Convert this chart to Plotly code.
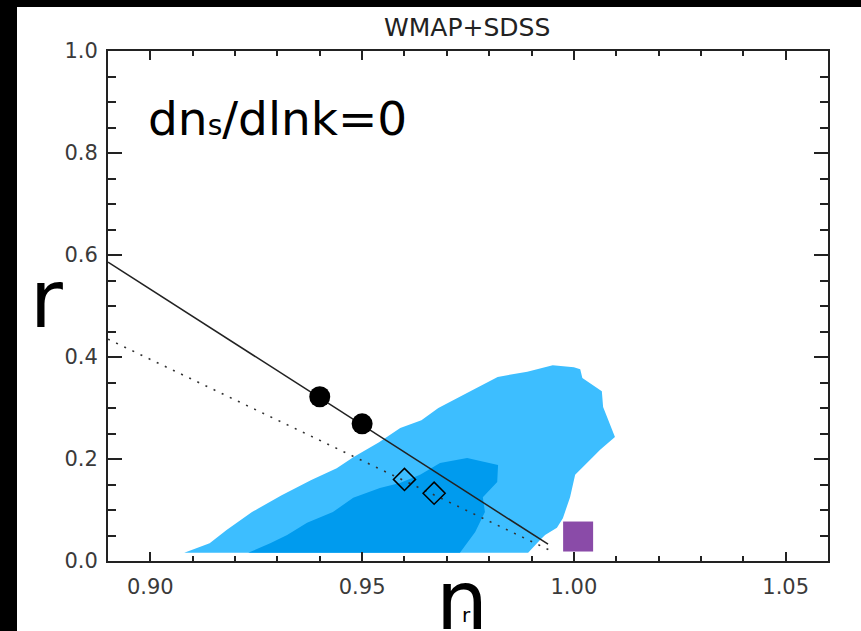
import plotly.graph_objects as go

# ---- data ----
outer_n = [0.908, 0.914, 0.918, 0.924, 0.931, 0.938, 0.944, 0.948, 0.954, 0.959, 0.964, 0.968,
           0.976, 0.982, 0.989, 0.995, 1.000, 1.0015, 1.002, 1.0066, 1.0069, 1.0097, 1.0062,
           1.0045, 1.0003, 0.9991, 0.9974, 0.996, 0.9932, 0.992, 0.9892]
outer_r = [0.016, 0.035, 0.061, 0.096, 0.129, 0.159, 0.182, 0.204, 0.233, 0.261, 0.276, 0.300,
           0.335, 0.361, 0.371, 0.384, 0.380, 0.376, 0.359, 0.333, 0.302, 0.243, 0.218,
           0.204, 0.169, 0.125, 0.084, 0.065, 0.051, 0.041, 0.016]
inner_n = [0.9231, 0.9283, 0.9323, 0.937, 0.9431, 0.9479, 0.9542, 0.9589, 0.9637, 0.9684,
           0.9748, 0.9821, 0.9819, 0.9785, 0.979, 0.9767, 0.9731]
inner_r = [0.016, 0.035, 0.051, 0.075, 0.096, 0.124, 0.143, 0.153, 0.169, 0.192,
           0.202, 0.188, 0.155, 0.125, 0.096, 0.057, 0.016]
solid_n = [0.89, 0.9939]
solid_r = [0.586, 0.033]
dotted_n = [0.89, 0.9951]
dotted_r = [0.435, 0.018]
circle_n = [0.940, 0.950]
circle_r = [0.322, 0.269]
diamond_n = [0.960, 0.967]
diamond_r = [0.160, 0.133]
square_n = [1.001]
square_r = [0.048]
x_ticks = [0.90, 0.95, 1.00, 1.05]
x_ticklabels = ["0.90", "0.95", "1.00", "1.05"]
y_ticks = [0.0, 0.2, 0.4, 0.6, 0.8, 1.0]
y_ticklabels = ["0.0", "0.2", "0.4", "0.6", "0.8", "1.0"]

W, H = 861, 631
L, R, T, B = 108, 33, 51, 70
PW, PH = W - L - R, H - T - B


def px(x):
    return (x - L) / PW


def py(y):
    return (H - B - y) / PH


fig = go.Figure()
fig.add_trace(go.Scatter(x=outer_n, y=outer_r, fill="toself", mode="none",
                         fillcolor="#3DBEFF", hoverinfo="skip"))
fig.add_trace(go.Scatter(x=inner_n, y=inner_r, fill="toself", mode="none",
                         fillcolor="#009BEE", hoverinfo="skip"))
fig.add_trace(go.Scatter(x=solid_n, y=solid_r, mode="lines",
                         line=dict(color="#222222", width=1.5)))
fig.add_trace(go.Scatter(x=dotted_n, y=dotted_r, mode="lines",
                         line=dict(color="#333333", width=1.6, dash="2px,7px")))
fig.add_trace(go.Scatter(x=circle_n, y=circle_r, mode="markers",
                         marker=dict(symbol="circle", size=21, color="black")))
fig.add_trace(go.Scatter(x=diamond_n, y=diamond_r, mode="markers",
                         marker=dict(symbol="diamond-open", size=17, color="black",
                                     line=dict(width=1.5, color="black"))))
fig.add_trace(go.Scatter(x=square_n, y=square_r, mode="markers",
                         marker=dict(symbol="square", size=30, color="#8A4BA8",
                                     line=dict(width=0))))

axis_common = dict(showgrid=False, zeroline=False, showline=True, linecolor="#222222",
                   linewidth=2, ticks="inside", tickcolor="#222222", tickwidth=2,
                   mirror="ticks",
                   tickfont=dict(family="DejaVu Sans", size=21, color="#3a3a3a"))

fig.update_xaxes(range=[0.89, 1.06], tickvals=x_ticks, ticktext=x_ticklabels, ticklen=9,
                 minor=dict(dtick=0.01, tick0=0.89, ticks="inside", ticklen=5,
                            tickcolor="#222222", tickwidth=2, showgrid=False),
                 ticklabelstandoff=6, **axis_common)
fig.update_yaxes(range=[0.0, 1.0], tickvals=y_ticks, ticktext=y_ticklabels, ticklen=14,
                 minor=dict(dtick=0.05, tick0=0.0, ticks="inside", ticklen=8,
                            tickcolor="#222222", tickwidth=2, showgrid=False),
                 ticklabelstandoff=4, **axis_common)

annotations = [
    dict(text="WMAP+SDSS", x=px(467), y=py(28), xanchor="center", yanchor="middle",
         font=dict(family="DejaVu Sans", size=25, color="#222222")),
    dict(text='dn<span style="font-size:28px">s</span>/dlnk=0', x=px(146), y=py(119),
         xanchor="left", yanchor="middle",
         font=dict(family="DejaVu Sans", size=47, color="black")),
    dict(text="r", x=px(46), y=py(299), xanchor="center", yanchor="middle",
         font=dict(family="DejaVu Sans", size=80, color="black")),
    dict(text="n", x=px(462), y=py(600), xanchor="center", yanchor="middle",
         font=dict(family="DejaVu Sans", size=82, color="black")),
    dict(text="r", x=px(466), y=py(615), xanchor="center", yanchor="middle",
         font=dict(family="DejaVu Sans", size=20, color="black")),
]
for a in annotations:
    a.update(xref="paper", yref="paper", showarrow=False)

shapes = [
    dict(type="rect", xref="paper", yref="paper", x0=px(-5), x1=px(W + 5), y0=py(7), y1=py(-5),
         fillcolor="black", line=dict(width=0), layer="above"),
    dict(type="rect", xref="paper", yref="paper", x0=px(-5), x1=px(17), y0=py(H + 5), y1=py(-5),
         fillcolor="black", line=dict(width=0), layer="above"),
]

fig.update_layout(width=W, height=H, margin=dict(l=L, r=R, t=T, b=B),
                  paper_bgcolor="white", plot_bgcolor="white", showlegend=False,
                  annotations=annotations, shapes=shapes)

fig.write_html("out.html", config={"displayModeBar": False},
               post_script="document.body.style.margin='0';document.body.style.overflow='hidden';")
